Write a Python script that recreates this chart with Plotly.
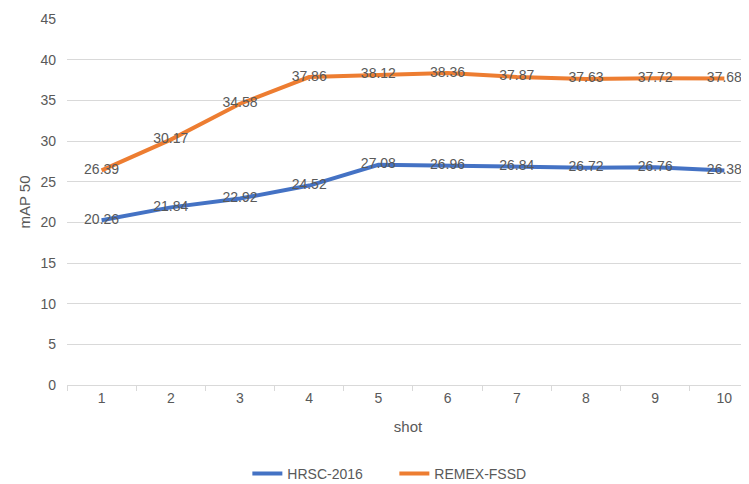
import plotly.graph_objects as go

shots = ["1", "2", "3", "4", "5", "6", "7", "8", "9", "10"]
hrsc = [20.26, 21.84, 22.92, 24.52, 27.08, 26.96, 26.84, 26.72, 26.76, 26.38]
remex = [26.39, 30.17, 34.58, 37.86, 38.12, 38.36, 37.87, 37.63, 37.72, 37.68]
y_ticks = [0, 5, 10, 15, 20, 25, 30, 35, 40, 45]

gray = "#595959"
font_family = "Liberation Sans Narrow, Liberation Sans, Arial, sans-serif"

fig = go.Figure()
fig.add_trace(go.Scatter(
    x=shots, y=hrsc, name="HRSC-2016", mode="lines+text", cliponaxis=False,
    line=dict(color="#4472C4", width=4),
    text=[f"{v:.2f}" for v in hrsc], textposition="middle center",
    textfont=dict(color=gray, size=14, family=font_family),
))
fig.add_trace(go.Scatter(
    x=shots, y=remex, name="REMEX-FSSD", mode="lines+text", cliponaxis=False,
    line=dict(color="#ED7D31", width=4),
    text=[f"{v:.2f}" for v in remex], textposition="middle center",
    textfont=dict(color=gray, size=14, family=font_family),
))

fig.update_layout(
    width=741, height=476,
    margin=dict(l=59, r=0, t=11, b=99, autoexpand=False),
    paper_bgcolor="white", plot_bgcolor="white",
    font=dict(family=font_family, color=gray, size=14),
    showlegend=True,
    legend=dict(orientation="h", x=0.480, xanchor="center", y=-0.243, yanchor="middle",
                font=dict(size=14, color=gray), itemwidth=30,
                entrywidth=102, entrywidthmode="pixels"),
    xaxis=dict(
        type="category", range=[-0.5, 9.356], automargin=False,
        tickson="boundaries", ticks="outside", ticklen=5, tickcolor="#D9D9D9",
        showgrid=False, showline=True, linecolor="#D9D9D9", linewidth=1,
        tickfont=dict(size=14, color=gray),
        title=dict(text="shot", font=dict(size=15, color=gray), standoff=16),
    ),
    yaxis=dict(
        range=[0, 45], tickvals=y_ticks, automargin=False,
        showgrid=True, gridcolor="#D9D9D9", gridwidth=1,
        zeroline=False, showline=False,
        tickfont=dict(size=14, color=gray), ticklabelstandoff=10,
        title=dict(text="mAP 50", font=dict(size=15, color=gray), standoff=6),
    ),
)

fig.write_html("out.html")
